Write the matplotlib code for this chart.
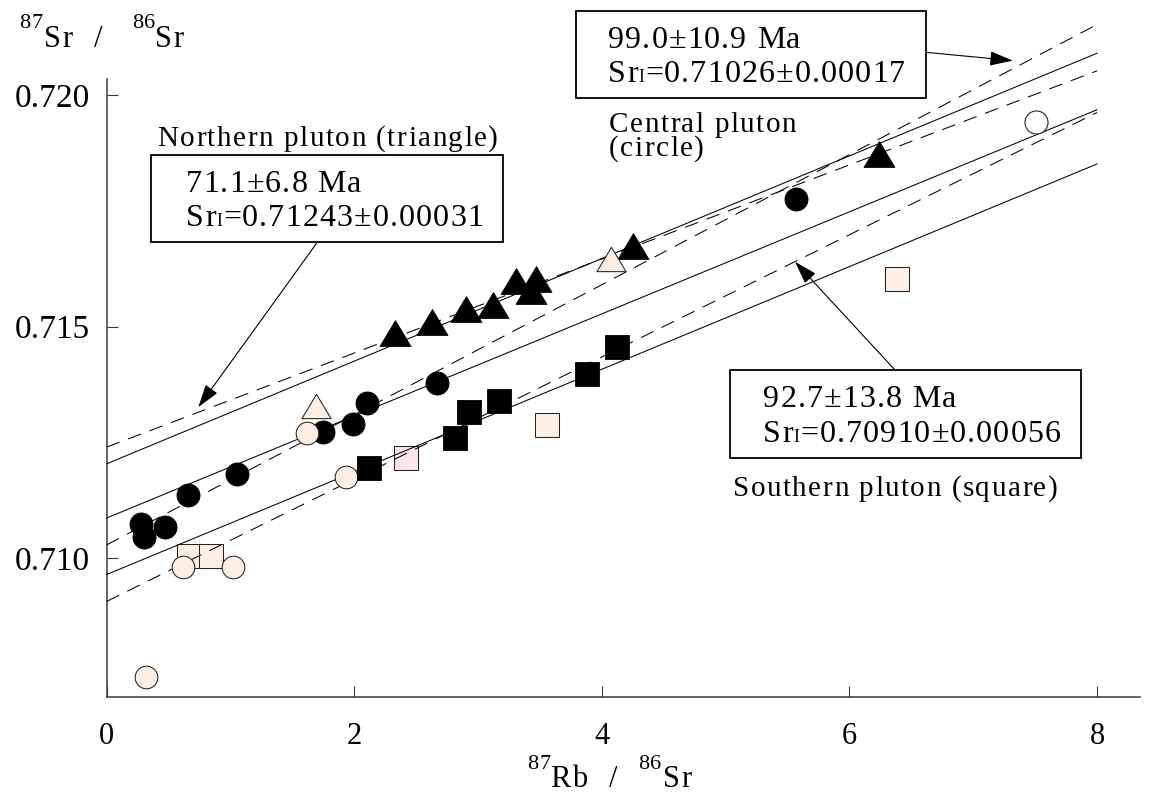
import matplotlib
matplotlib.use("Agg")
import matplotlib.pyplot as plt
import matplotlib.text as mtext
from matplotlib.font_manager import findfont, get_font
from matplotlib.transforms import Bbox, IdentityTransform
from matplotlib.patches import Rectangle
from matplotlib.path import Path

plt.rcParams['font.family'] = ['Liberation Serif', 'DejaVu Serif']
plt.rcParams['lines.scale_dashes'] = False

W, H, DPI = 1149, 792, 100

# ---------------- data ----------------
# Central pluton (circles)
central_black_x = [0.28, 0.30, 0.47, 0.66, 1.05, 1.75, 1.99, 2.10, 2.67, 5.57]
central_black_y = [0.71074, 0.71047, 0.71067, 0.71137, 0.71182, 0.71273, 0.71289, 0.71335, 0.71378, 0.71776]
central_light_x = [0.32, 0.62, 1.02, 1.62, 1.93]
central_light_y = [0.70743, 0.70982, 0.70982, 0.71270, 0.71175]
central_open_x = [7.51]
central_open_y = [0.71941]
# Southern pluton (squares)
south_black_x = [2.12, 2.81, 2.93, 3.17, 3.88, 4.12]
south_black_y = [0.71194, 0.71259, 0.71315, 0.71340, 0.71398, 0.71456]
south_light_x = [0.665, 0.84, 3.56, 6.38]
south_light_y = [0.71004, 0.71004, 0.71288, 0.71602]
south_pink_x = [2.42]
south_pink_y = [0.71216]
# Northern pluton (triangles)
north_black_x = [2.33, 2.63, 2.90, 3.12, 3.31, 3.47, 3.43, 4.25, 6.24]
north_black_y = [0.71487, 0.71509, 0.71538, 0.71547, 0.71598, 0.71603, 0.71576, 0.71674, 0.71872]
north_light_x = [1.69, 4.07]
north_light_y = [0.71328, 0.71646]

# isochron lines (dashed) and reference lines (solid): y at x = 0 and x = 8
line_x = [0, 8]
iso_north_y = [0.71240, 0.72052]
iso_central_y = [0.71029, 0.72152]
iso_south_y = [0.70907, 0.71962]
ref_upper_y = [0.71204, 0.72090]
ref_middle_y = [0.71087, 0.71968]
ref_lower_y = [0.70965, 0.71851]

x_ticks = [0, 2, 4, 6, 8]
y_ticks = [0.710, 0.715, 0.720]
y_ticklabels = ['0.710', '0.715', '0.720']

north_age = "71.1\u00b16.8 Ma"
north_sri = "=0.71243\u00b10.00031"
central_age = "99.0\u00b110.9 Ma"
central_sri = "=0.71026\u00b10.00017"
south_age = "92.7\u00b113.8 Ma"
south_sri = "=0.70910\u00b10.00056"
north_label = "Northern pluton (triangle)"
central_label1 = "Central pluton"
central_label2 = "(circle)"
south_label = "Southern pluton (square)"


# ---------------- letter-spaced text artist ----------------
class TrackedText(mtext.Text):
    """One text artist drawn with extra letter spacing.
    runs: list of (string, size_scale, rise_em, gap_before_pt)."""

    def __init__(self, x, y, runs, tracking=0.0, **kwargs):
        self._runs = runs
        self._tracking = tracking
        super().__init__(x, y, ''.join(r[0] for r in runs), **kwargs)

    def _layout_glyphs(self, dpi):
        fp = self.get_fontproperties()
        base = fp.get_size_in_points()
        font = get_font(findfont(fp))
        k = dpi / 72.0
        x = 0.0
        out = []
        for s, scale, rise, gap in self._runs:
            x += gap * k
            size = base * scale
            font.set_size(size, dpi)
            for ch in s:
                adv = font.load_char(ord(ch)).linearHoriAdvance / 65536.0
                out.append((ch, x, rise * base * k, size))
                x += adv + self._tracking * k
        return out, x - self._tracking * k

    def _origin(self, width):
        x0, y0 = self.get_transform().transform(self.get_unitless_position())
        ha = self.get_horizontalalignment()
        if ha == 'center':
            x0 -= width / 2
        elif ha == 'right':
            x0 -= width
        return x0, y0

    def draw(self, renderer):
        if not self.get_visible():
            return
        glyphs, width = self._layout_glyphs(self.figure.dpi)
        x0, y0 = self._origin(width)
        for ch, dx, dy, size in glyphs:
            if ch.isspace():
                continue
            fp = self.get_fontproperties().copy()
            fp.set_size(size)
            t = mtext.Text(x0 + dx, y0 + dy, ch, fontproperties=fp,
                           color=self.get_color(), ha='left', va='baseline',
                           transform=IdentityTransform())
            t.set_figure(self.figure)
            t.draw(renderer)

    def get_window_extent(self, renderer=None, dpi=None):
        bb = super().get_window_extent(renderer, dpi)
        d = dpi if dpi is not None else self.figure.dpi
        _, width = self._layout_glyphs(d)
        x0, _ = self._origin(width)
        return Bbox.from_extents(x0, bb.y0, x0 + width, bb.y1)


def fxy(px, py):
    return px / W, 1 - py / H


fig = plt.figure(figsize=(W / DPI, H / DPI), dpi=DPI, facecolor='white')

ax_left, ax_right, ax_top, ax_bottom = 106.7, 1140.4, 78.7, 697.3
ax = fig.add_axes([ax_left / W, 1 - ax_bottom / H, (ax_right - ax_left) / W, (ax_bottom - ax_top) / H])
ax.set_xlim(0, 8.35)
ax.set_ylim(0.707, 0.72035)

for s in ['top', 'right']:
    ax.spines[s].set_visible(False)
for s in ['left', 'bottom']:
    ax.spines[s].set_color('#3a3a3a')
    ax.spines[s].set_linewidth(1.1)

ax.set_xticks(x_ticks)
ax.set_xticklabels([str(v) for v in x_ticks])
ax.set_yticks(y_ticks)
ax.set_yticklabels(y_ticklabels)
ax.tick_params(axis='both', direction='in', length=8, width=0.8, color='#3a3a3a', labelcolor='black')
ax.tick_params(axis='x', labelsize=22, pad=17.5)
ax.tick_params(axis='y', labelsize=24, pad=12)
for lab in ax.get_xticklabels() + ax.get_yticklabels():
    lab.set_fontfamily('Liberation Serif')

# lines (they run slightly above the top of the frame, as in the original)
dash = (0, (10, 6.5))
for ys in (ref_upper_y, ref_middle_y, ref_lower_y):
    ax.plot(line_x, ys, color='black', lw=0.75, zorder=3, clip_on=False)
for ys in (iso_north_y, iso_central_y, iso_south_y):
    ax.plot(line_x, ys, color='black', lw=0.75, linestyle=dash, zorder=3, clip_on=False)

# markers
peach = '#fdeee4'
pink = '#fce4ee'
edge = '#222222'
tri = Path([(-0.6, -0.5), (0.6, -0.5), (0, 0.5), (-0.6, -0.5)],
           [Path.MOVETO, Path.LINETO, Path.LINETO, Path.CLOSEPOLY])

ax.plot(south_light_x, south_light_y, ls='none', marker='s', ms=17, mfc=peach, mec=edge, mew=0.75, zorder=2)
ax.plot(south_pink_x, south_pink_y, ls='none', marker='s', ms=17, mfc=pink, mec=edge, mew=0.75, zorder=2)
ax.plot(central_black_x, central_black_y, ls='none', marker='o', ms=16.6, mfc='black', mec='black', mew=0.6, zorder=4)
ax.plot(central_light_x, central_light_y, ls='none', marker='o', ms=16.3, mfc=peach, mec=edge, mew=0.75, zorder=5)
ax.plot(central_open_x, central_open_y, ls='none', marker='o', ms=16.6, mfc='white', mec=edge, mew=0.8, zorder=5)
ax.plot(south_black_x, south_black_y, ls='none', marker='s', ms=17.3, mfc='black', mec='black', mew=0.6, zorder=6)
ax.plot(north_black_x, north_black_y, ls='none', marker=tri, ms=22.3, mfc='black', mec='black', mew=0.6, zorder=7)
ax.plot(north_light_x, north_light_y, ls='none', marker=tri, ms=21, mfc=peach, mec=edge, mew=0.75, zorder=8)

# axis titles
ylab_runs = [("87", 0.73, 0.62, 0), ("Sr", 1, 0, 0), ("/", 1, 0, 14.4), ("86", 0.73, 0.62, 20.2), ("Sr", 1, 0, -1.5)]
xlab_runs = [("87", 0.73, 0.58, 0), ("Rb", 1, 0, -1.5), ("/", 1, 0, 14.8), ("86", 0.73, 0.58, 13.7), ("Sr", 1, 0, 0)]


def add_text(px, py, runs, size, tracking):
    x, y = fxy(px, py)
    t = TrackedText(x, y, runs, tracking=tracking, fontsize=size, family='Liberation Serif',
                    color='black', ha='left', va='baseline', transform=fig.transFigure)
    fig.add_artist(t)
    return t


add_text(19, 47, ylab_runs, 22, 1.0)
add_text(527, 786.7, xlab_runs, 22, 1.0)

BOX_SIZE, BOX_TRK = 23, 0.8
LAB_SIZE, LAB_TRK = 21, 1.1


def sri_runs(value):
    return [("Sr", 1, 0, 0), ("I", 0.55, 0, -0.5), (value, 1, 0, 0)]


# boxes
def add_box(x0, y0, x1, y1):
    r = Rectangle(fxy(x0, y1), (x1 - x0) / W, (y1 - y0) / H, transform=fig.transFigure,
                  fill=False, ec='black', lw=1.3, zorder=10)
    fig.add_artist(r)


add_box(150.7, 155, 503.3, 242.3)
add_text(186, 191.7, [(north_age, 1, 0, 0)], BOX_SIZE, BOX_TRK)
add_text(186, 226, sri_runs(north_sri), BOX_SIZE, BOX_TRK)
add_text(157.3, 145.7, [(north_label, 1, 0, 0)], LAB_SIZE, LAB_TRK)

add_box(575.6, 11, 925.7, 98.3)
add_text(608, 47.7, [(central_age, 1, 0, 0)], BOX_SIZE, BOX_TRK)
add_text(608, 81.7, sri_runs(central_sri), BOX_SIZE, BOX_TRK)
add_text(609, 131.7, [(central_label1, 1, 0, 0)], LAB_SIZE, LAB_TRK)
add_text(609, 156, [(central_label2, 1, 0, 0)], LAB_SIZE, LAB_TRK)

add_box(730, 370, 1081, 458.3)
add_text(763.3, 406.7, [(south_age, 1, 0, 0)], BOX_SIZE, BOX_TRK)
add_text(763.3, 441.7, sri_runs(south_sri), BOX_SIZE, BOX_TRK)
add_text(732.7, 496, [(south_label, 1, 0, 0)], LAB_SIZE, LAB_TRK)

# arrows from boxes to the isochrons
arrow = dict(arrowstyle='-|>,head_length=0.8,head_width=0.25', mutation_scale=18,
             lw=0.8, color='black', shrinkA=0, shrinkB=0)
ax.annotate('', xy=(0.74, 0.71326), xycoords='data', xytext=fxy(317.3, 242.3),
            textcoords='figure fraction', arrowprops=arrow)
ax.annotate('', xy=(7.32, 0.72074), xycoords='data', xytext=fxy(925.7, 52.3),
            textcoords='figure fraction', arrowprops=arrow, annotation_clip=False)
ax.annotate('', xy=(5.56, 0.71640), xycoords='data', xytext=fxy(894.3, 369.3),
            textcoords='figure fraction', arrowprops=arrow)

fig.savefig('out.png', dpi=DPI, facecolor='white')
